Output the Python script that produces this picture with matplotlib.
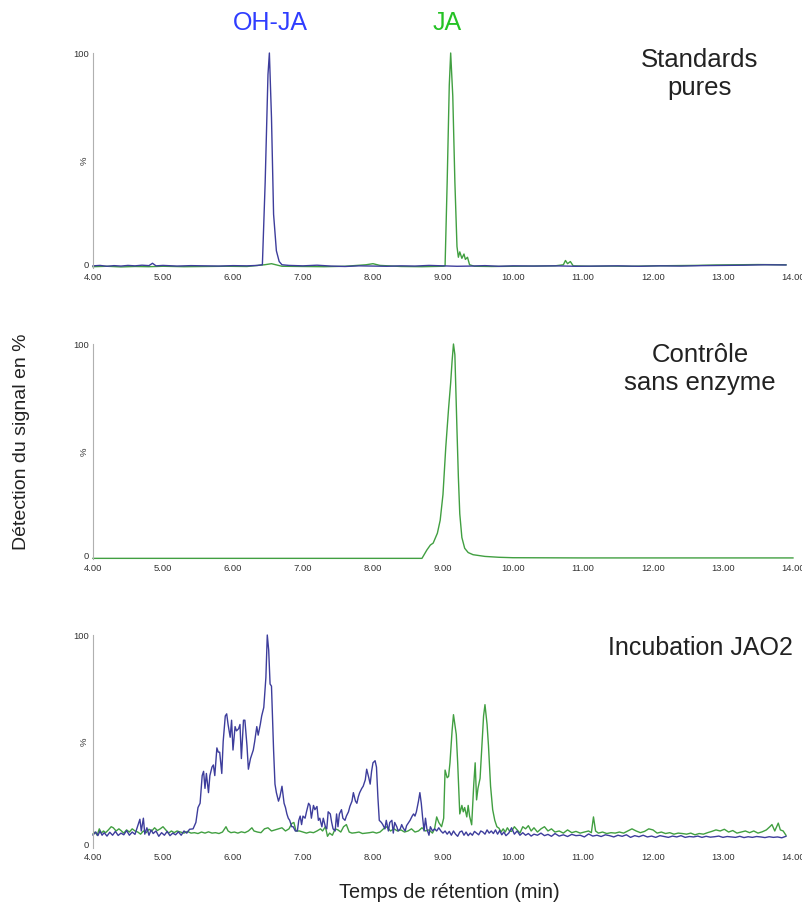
import matplotlib
matplotlib.use('Agg')
import matplotlib.pyplot as plt

plt.rcParams['font.family'] = ['Liberation Sans', 'DejaVu Sans']

# retention times (min) and signal (%)
std_blue_t = [4.00, 4.10, 4.20, 4.30, 4.40, 4.50, 4.60, 4.70, 4.80, 4.85, 4.90, 5.00, 5.20, 5.40,
              5.60, 5.80, 6.00, 6.20, 6.35, 6.42, 6.46, 6.50, 6.52, 6.55, 6.58, 6.62, 6.66, 6.70,
              6.80, 7.00, 7.20, 7.40, 7.60, 7.80, 8.00, 8.20, 8.40, 8.60, 8.80, 9.00, 9.20, 9.40,
              9.60, 9.80, 10.00, 10.30, 10.60, 10.90, 11.20, 11.50, 11.80, 12.10, 12.40, 12.70,
              13.00, 13.30, 13.60, 13.90]
std_blue_v = [1.0, 1.2, 0.8, 1.1, 0.9, 1.2, 1.0, 1.3, 1.1, 2.2, 1.0, 1.2, 0.9, 1.1,
              1.0, 0.9, 1.1, 1.0, 1.2, 1.5, 40.0, 90.0, 100.0, 70.0, 25.0, 8.0, 3.0, 1.5,
              1.2, 1.0, 1.3, 0.9, 0.7, 1.0, 0.9, 0.8, 1.0, 0.9, 1.2, 1.0, 0.8, 0.9,
              1.1, 0.8, 1.0, 0.9, 1.0, 0.8, 0.9, 1.0, 0.8, 1.0, 0.9, 1.1,
              1.2, 1.3, 1.5, 1.4]

std_green_t = [4.00, 4.20, 4.40, 4.60, 4.80, 5.00, 5.30, 5.60, 5.90, 6.20, 6.45, 6.55, 6.70,
               7.00, 7.30, 7.60, 7.90, 8.00, 8.10, 8.40, 8.70, 9.00, 9.03, 9.06, 9.09, 9.11,
               9.14, 9.17, 9.20, 9.22, 9.24, 9.27, 9.30, 9.32, 9.35, 9.38, 9.45, 9.70, 10.00,
               10.30, 10.60, 10.72, 10.75, 10.78, 10.82, 10.86, 11.10, 11.40, 11.70, 12.00,
               12.30, 12.60, 12.90, 13.20, 13.50, 13.90]
std_green_v = [0.6, 0.8, 0.5, 0.7, 0.6, 0.8, 0.6, 0.7, 0.8, 0.7, 1.5, 2.0, 0.8,
               0.7, 0.6, 0.8, 1.5, 2.0, 1.2, 0.7, 0.6, 0.8, 1.0, 40.0, 85.0, 100.0,
               80.0, 40.0, 10.0, 5.0, 7.5, 4.5, 6.5, 4.0, 5.0, 1.5, 0.8, 0.7, 0.8,
               0.9, 1.0, 1.5, 3.5, 2.0, 3.0, 1.0, 0.8, 0.9, 0.8, 1.0,
               1.1, 1.2, 1.4, 1.5, 1.6, 1.5]

ctrl_green_t = [4.00, 5.00, 6.00, 7.00, 8.00, 8.70, 8.77, 8.82, 8.86, 8.92, 8.96, 9.00, 9.04,
                9.08, 9.11, 9.13, 9.15, 9.17, 9.20, 9.22, 9.24, 9.27, 9.31, 9.36, 9.43, 9.60,
                9.80, 10.00, 11.00, 12.00, 13.00, 14.00]
ctrl_green_v = [0.3, 0.3, 0.3, 0.3, 0.3, 0.3, 4.2, 6.5, 7.4, 12.0, 18.0, 30.0, 52.0,
                70.0, 82.0, 92.0, 100.0, 95.0, 60.0, 38.0, 21.0, 10.0, 5.0, 3.0, 2.0, 1.2,
                0.8, 0.6, 0.5, 0.5, 0.5, 0.5]

inc_blue_t = [4.00, 4.04, 4.07, 4.10, 4.13, 4.16, 4.20, 4.24, 4.28, 4.32, 4.36, 4.40, 4.44, 4.48,
              4.52, 4.56, 4.60, 4.64, 4.67, 4.69, 4.72, 4.74, 4.77, 4.80, 4.83, 4.86, 4.90, 4.94,
              4.98, 5.02, 5.06, 5.10, 5.14, 5.18, 5.22, 5.26, 5.30, 5.34, 5.38, 5.43, 5.47, 5.50,
              5.53, 5.56, 5.58, 5.60, 5.62, 5.65, 5.67, 5.70, 5.72, 5.74, 5.77, 5.79, 5.81, 5.84,
              5.86, 5.89, 5.91, 5.93, 5.96, 5.98, 6.00, 6.03, 6.05, 6.08, 6.10, 6.12, 6.15, 6.17,
              6.20, 6.22, 6.25, 6.27, 6.29, 6.31, 6.34, 6.36, 6.39, 6.41, 6.44, 6.47, 6.49, 6.51,
              6.53, 6.55, 6.58, 6.60, 6.62, 6.65, 6.67, 6.70, 6.73, 6.75, 6.77, 6.79, 6.81, 6.84,
              6.86, 6.89, 6.92, 6.94, 6.96, 6.98, 7.00, 7.03, 7.05, 7.08, 7.10, 7.12, 7.15, 7.17,
              7.20, 7.22, 7.24, 7.27, 7.29, 7.32, 7.34, 7.36, 7.39, 7.41, 7.43, 7.46, 7.48, 7.50,
              7.52, 7.55, 7.57, 7.60, 7.62, 7.65, 7.67, 7.70, 7.72, 7.75, 7.77, 7.79, 7.81, 7.84,
              7.86, 7.89, 7.91, 7.94, 7.96, 7.98, 8.00, 8.03, 8.05, 8.07, 8.09, 8.12, 8.14, 8.17,
              8.19, 8.22, 8.24, 8.27, 8.29, 8.31, 8.34, 8.36, 8.39, 8.41, 8.43, 8.46, 8.48, 8.51,
              8.53, 8.56, 8.58, 8.60, 8.62, 8.65, 8.67, 8.69, 8.71, 8.73, 8.75, 8.77, 8.80, 8.82,
              8.85, 8.88, 8.91, 8.94, 8.97, 9.00, 9.03, 9.06, 9.09, 9.12, 9.15, 9.18, 9.21, 9.24,
              9.27, 9.30, 9.33, 9.36, 9.39, 9.42, 9.45, 9.48, 9.51, 9.54, 9.57, 9.60, 9.63, 9.66,
              9.69, 9.72, 9.75, 9.78, 9.81, 9.84, 9.87, 9.90, 9.94, 9.98, 10.02, 10.06, 10.10,
              10.14, 10.18, 10.22, 10.26, 10.30, 10.35, 10.40, 10.45, 10.50, 10.55, 10.60, 10.66,
              10.72, 10.78, 10.84, 10.90, 10.96, 11.02, 11.08, 11.14, 11.20, 11.26, 11.32, 11.38,
              11.44, 11.50, 11.56, 11.62, 11.68, 11.74, 11.80, 11.86, 11.92, 11.98, 12.04, 12.10,
              12.16, 12.22, 12.28, 12.34, 12.40, 12.46, 12.52, 12.58, 12.64, 12.70, 12.76, 12.82,
              12.88, 12.94, 13.00, 13.06, 13.12, 13.18, 13.24, 13.30, 13.36, 13.42, 13.48, 13.54,
              13.60, 13.66, 13.72, 13.78, 13.84, 13.90]
inc_blue_v = [6.1, 7.5, 5.8, 8.0, 6.0, 7.2, 5.6, 7.4, 6.0, 7.8, 5.9, 7.0, 6.2, 8.2,
              6.0, 7.5, 6.4, 10.5, 13.5, 8.0, 14.0, 6.5, 9.5, 6.0, 8.5, 6.8, 8.0, 5.5,
              7.2, 6.0, 7.8, 5.8, 7.0, 6.2, 7.6, 6.0, 8.0, 7.0, 8.8, 9.0, 12.0, 19.0,
              21.0, 34.0, 36.0, 28.0, 35.0, 26.0, 34.0, 38.0, 39.0, 34.0, 47.0, 45.0, 45.0, 35.0,
              50.0, 62.0, 63.0, 58.0, 52.0, 60.0, 46.0, 57.0, 55.0, 56.0, 58.0, 42.0, 60.0, 60.0,
              48.0, 37.0, 42.0, 44.0, 46.0, 50.0, 57.0, 53.0, 58.0, 62.0, 66.0, 80.0, 100.0, 93.0,
              77.0, 76.0, 46.0, 30.0, 26.0, 22.0, 24.0, 29.0, 21.0, 19.0, 16.0, 14.0, 13.0, 10.0,
              10.0, 8.0, 8.0, 13.0, 15.0, 11.0, 15.0, 14.0, 17.0, 21.0, 20.0, 14.0, 20.0, 18.0,
              19.5, 13.0, 14.0, 10.0, 14.0, 10.0, 9.0, 17.0, 16.0, 12.0, 9.0, 8.0, 16.0, 10.0,
              16.0, 18.0, 14.0, 13.0, 15.0, 17.0, 19.5, 22.0, 26.0, 22.0, 21.0, 24.0, 26.0, 28.0,
              29.0, 32.0, 37.0, 33.0, 30.0, 36.0, 40.0, 41.0, 38.0, 24.0, 13.0, 12.0, 11.0, 9.0,
              13.0, 8.0, 12.0, 13.0, 7.0, 12.0, 10.0, 8.0, 9.0, 11.0, 9.5, 8.0, 10.5, 12.0,
              13.0, 15.0, 16.0, 15.0, 17.0, 22.0, 26.0, 21.0, 14.0, 8.0, 14.0, 9.0, 6.0, 10.0,
              8.0, 9.0, 8.0, 9.5, 8.0, 7.0, 8.0, 6.5, 7.8, 6.0, 8.0, 6.5, 5.5, 7.5,
              8.0, 6.0, 7.5, 5.8, 7.0, 6.0, 7.8, 7.0, 6.2, 8.0, 7.5, 6.5, 8.5, 7.0,
              8.0, 6.8, 8.5, 6.5, 8.2, 6.2, 7.5, 5.8, 7.0, 9.5, 6.5, 8.0, 6.0,
              7.2, 6.0, 6.8, 5.6, 6.5, 6.0, 7.0, 5.8, 6.4, 5.5, 6.8, 5.6,
              6.2, 5.4, 6.4, 5.8, 6.0, 5.2, 6.6, 5.6, 6.0, 5.4, 6.2, 5.8,
              5.2, 6.0, 5.5, 6.2, 5.0, 5.8, 5.3, 6.0, 5.2, 5.6, 5.0, 5.8,
              5.4, 5.0, 5.6, 5.2, 5.8, 5.0, 5.4, 5.2, 5.6, 5.0, 5.5, 5.1,
              5.3, 5.6, 5.0, 5.4, 5.2, 5.0, 5.5, 4.9, 5.3, 5.0, 5.4, 5.2,
              4.9, 5.3, 5.0, 5.2, 4.8, 5.5]

inc_green_t = [4.00, 4.03, 4.06, 4.09, 4.12, 4.15, 4.18, 4.22, 4.26, 4.29, 4.33, 4.37, 4.40, 4.44,
               4.48, 4.52, 4.56, 4.60, 4.64, 4.68, 4.72, 4.76, 4.80, 4.84, 4.88, 4.92, 4.96, 5.00,
               5.04, 5.08, 5.12, 5.16, 5.20, 5.25, 5.30, 5.35, 5.40, 5.45, 5.50, 5.55, 5.60, 5.65,
               5.70, 5.75, 5.80, 5.85, 5.90, 5.93, 5.97, 6.02, 6.07, 6.12, 6.17, 6.22, 6.27, 6.30,
               6.35, 6.40, 6.45, 6.50, 6.55, 6.60, 6.65, 6.70, 6.75, 6.80, 6.84, 6.87, 6.90, 6.95,
               7.00, 7.05, 7.10, 7.15, 7.20, 7.25, 7.28, 7.32, 7.35, 7.38, 7.42, 7.46, 7.50, 7.54,
               7.58, 7.62, 7.66, 7.70, 7.75, 7.80, 7.85, 7.90, 7.95, 8.00, 8.05, 8.10, 8.15, 8.20,
               8.25, 8.30, 8.35, 8.40, 8.45, 8.50, 8.55, 8.60, 8.65, 8.70, 8.75, 8.80, 8.85, 8.88,
               8.91, 8.94, 8.98, 9.01, 9.03, 9.06, 9.08, 9.10, 9.13, 9.15, 9.17, 9.19, 9.21, 9.24,
               9.27, 9.29, 9.31, 9.34, 9.36, 9.38, 9.41, 9.44, 9.46, 9.48, 9.50, 9.53, 9.56, 9.58,
               9.60, 9.63, 9.65, 9.68, 9.71, 9.74, 9.77, 9.80, 9.83, 9.86, 9.89, 9.92, 9.95, 9.98,
               10.02, 10.06, 10.10, 10.14, 10.18, 10.22, 10.26, 10.30, 10.35, 10.40, 10.45, 10.50,
               10.55, 10.60, 10.66, 10.72, 10.78, 10.84, 10.90, 10.96, 11.02, 11.08, 11.12, 11.15,
               11.18, 11.22, 11.28, 11.34, 11.40, 11.46, 11.52, 11.58, 11.64, 11.70, 11.76, 11.82,
               11.88, 11.94, 12.00, 12.06, 12.12, 12.18, 12.24, 12.30, 12.36, 12.42, 12.48, 12.54,
               12.60, 12.66, 12.72, 12.78, 12.84, 12.90, 12.96, 13.02, 13.08, 13.14, 13.20, 13.26,
               13.32, 13.38, 13.44, 13.50, 13.56, 13.62, 13.67, 13.70, 13.74, 13.79, 13.82, 13.86,
               13.90]
inc_green_v = [6.6, 7.5, 6.0, 9.0, 7.0, 8.0, 7.2, 8.5, 10.0, 9.5, 8.0, 9.0, 8.2, 7.0,
               8.5, 7.5, 9.0, 8.0, 7.5, 6.5, 8.0, 7.2, 8.8, 8.0, 9.5, 8.2, 9.0, 10.0,
               8.5, 7.0, 8.0, 7.2, 8.0, 7.5, 7.0, 7.8, 7.0, 7.2, 6.8, 7.5, 7.0, 7.6,
               7.0, 7.2, 6.8, 7.5, 10.0, 8.0, 7.2, 7.5, 7.0, 7.6, 7.2, 8.0, 9.5, 8.0,
               7.5, 7.2, 9.0, 9.5, 8.0, 8.5, 9.0, 9.5, 8.0, 9.0, 11.5, 12.0, 8.0, 8.0,
               7.5, 7.0, 7.5, 7.2, 8.0, 9.0, 8.0, 10.0, 5.5, 7.0, 6.0, 9.0, 8.5, 7.5,
               10.0, 11.0, 7.5, 7.0, 7.2, 7.5, 6.8, 7.0, 7.2, 7.5, 7.0, 7.5, 9.0, 10.0,
               8.0, 9.0, 8.0, 8.5, 7.5, 8.0, 9.0, 7.5, 8.0, 9.5, 8.0, 8.5, 7.0, 9.0,
               14.6, 12.0, 10.0, 14.0, 36.6, 33.0, 33.6, 40.0, 55.0, 62.6, 58.0, 53.3, 40.0, 16.0,
               20.0, 17.0, 19.0, 14.6, 20.0, 15.0, 10.9, 30.0, 40.0, 22.6, 28.0, 32.7, 50.0, 62.0,
               67.3, 58.0, 48.0, 29.0, 18.0, 13.0, 10.0, 9.3, 7.5, 9.0, 7.5, 9.5, 8.0, 7.8,
               10.0, 8.5, 7.0, 10.0, 9.0, 10.5, 8.0, 9.5, 7.5, 9.0, 10.0, 8.0,
               9.0, 7.5, 8.0, 7.0, 8.5, 7.2, 7.8, 7.0, 7.5, 8.0, 7.2, 14.6,
               8.0, 7.0, 7.5, 6.8, 7.2, 7.0, 7.5, 7.0, 8.0, 9.0, 8.0, 7.2,
               7.8, 9.0, 8.5, 7.0, 7.5, 6.8, 7.2, 6.5, 7.0, 6.8, 6.5, 7.0,
               6.2, 6.8, 6.5, 7.2, 7.8, 8.5, 8.0, 8.8, 7.5, 8.2, 7.0, 7.5,
               8.0, 7.2, 8.0, 7.0, 7.6, 8.5, 10.0, 11.0, 8.0, 11.7, 8.5, 8.0,
               6.0]

tick_times = [4, 5, 6, 7, 8, 9, 10, 11, 12, 13, 14]

BLUE = '#3d3d9c'
GREEN = '#419f41'
TEXT = '#222222'

fig = plt.figure(figsize=(8.03, 9.06), dpi=100)

# axes rectangles, figure fractions
rects = [[0.1158, 0.7042, 0.8717, 0.2373],
         [0.1158, 0.3830, 0.8717, 0.2373],
         [0.1158, 0.0640, 0.8717, 0.2351]]
axes = [fig.add_axes(r) for r in rects]


def style_axes(ax):
    ax.set_xlim(4, 14)
    ax.set_ylim(0, 100)
    for side in ['top', 'right', 'bottom']:
        ax.spines[side].set_visible(False)
    ax.spines['left'].set_color('#b0b0b0')
    ax.spines['left'].set_linewidth(0.8)
    ax.set_xticks(tick_times)
    ax.set_xticklabels(['%.2f' % t for t in tick_times])
    ax.set_yticks([0, 50, 100])
    ax.set_yticklabels(['0', '%', '100'])
    ylabels = ax.get_yticklabels()
    ylabels[0].set_verticalalignment('baseline')
    ylabels[1].set_rotation(90)
    ylabels[1].set_verticalalignment('center')
    ax.tick_params(axis='both', length=0, labelsize=6.8, colors='#333333')
    ax.tick_params(axis='x', pad=3.5)
    ax.tick_params(axis='y', pad=3)


for ax in axes:
    style_axes(ax)

axes[0].plot(std_green_t, std_green_v, color=GREEN, lw=1.0, clip_on=False)
axes[0].plot(std_blue_t, std_blue_v, color=BLUE, lw=1.0, clip_on=False)
axes[1].plot(ctrl_green_t, ctrl_green_v, color=GREEN, lw=1.0, clip_on=False)
axes[2].plot(inc_green_t, inc_green_v, color=GREEN, lw=1.0, clip_on=False)
axes[2].plot(inc_blue_t, inc_blue_v, color=BLUE, lw=1.0, clip_on=False)

fig.text(270 / 803, 1 - 23 / 906, 'OH-JA', color='#2f3dff', fontsize=18, ha='center', va='center')
fig.text(447 / 803, 1 - 23 / 906, 'JA', color='#24c224', fontsize=18, ha='center', va='center')

fig.text(700 / 803, 1 - 74 / 906, 'Standards\npures', color=TEXT, fontsize=18.5,
         ha='center', va='center', linespacing=1.2)
fig.text(700 / 803, 1 - 369 / 906, 'Contrôle\nsans enzyme', color=TEXT, fontsize=18.5,
         ha='center', va='center', linespacing=1.2)
fig.text(700 / 803, 1 - 648 / 906, 'Incubation JAO2', color=TEXT, fontsize=18,
         ha='center', va='center')

fig.text(22 / 803, 1 - 442 / 906, 'Détection du signal en %', color=TEXT, fontsize=14,
         rotation=90, ha='center', va='center')
fig.text(449 / 803, 1 - 892 / 906, 'Temps de rétention (min)', color=TEXT, fontsize=14.3,
         ha='center', va='center')

fig.savefig('out.png', dpi=100)
